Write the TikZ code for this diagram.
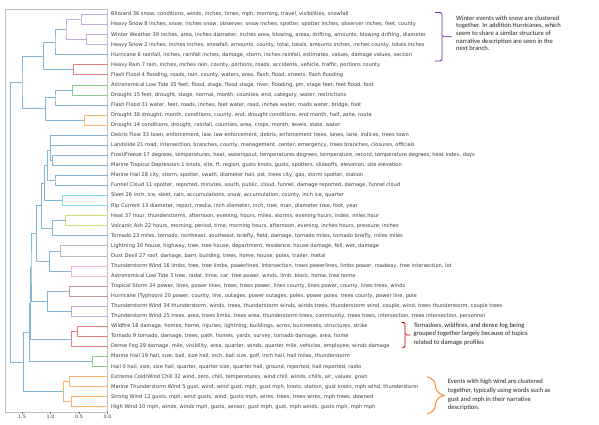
\documentclass[tikz,border=0pt]{standalone}
\usepackage{fontspec}
\setmainfont{DejaVu Sans}
\newfontfamily\notefont{Carlito}
\usetikzlibrary{decorations.pathreplacing}

\definecolor{tabblue}{HTML}{1F77B4}
\definecolor{taborange}{HTML}{FF7F0E}
\definecolor{tabgreen}{HTML}{2CA02C}
\definecolor{tabred}{HTML}{D62728}
\definecolor{tabpurple}{HTML}{9467BD}
\definecolor{tabbrown}{HTML}{8C564B}
\definecolor{tabpink}{HTML}{E377C2}
\definecolor{tabgray}{HTML}{7F7F7F}
\definecolor{tabolive}{HTML}{BCBD22}
\definecolor{tabcyan}{HTML}{17BECF}
\definecolor{labelgray}{HTML}{3C3C3C}
\definecolor{notepurple}{HTML}{7030A0}
\definecolor{notered}{HTML}{C00000}
\definecolor{noteorange}{HTML}{F79646}

\tikzset{
  leaf/.style={anchor=west, inner xsep=3.5pt, inner ysep=0pt, text=labelgray,
    font=\fontsize{5.1}{5.5}\selectfont},
  link/.style={line width=0.8pt},
  c0/.style={link, draw=tabblue!55!white},
  c1/.style={link, draw=taborange!60!white},
  c2/.style={link, draw=tabgreen!55!white},
  c3/.style={link, draw=tabred!60!white},
  c4/.style={link, draw=tabpurple!55!white},
  c5/.style={link, draw=tabbrown!60!white},
  c6/.style={link, draw=tabpink!55!white},
  c7/.style={link, draw=tabgray!55!white},
  c8/.style={link, draw=tabolive!60!white},
  c9/.style={link, draw=tabcyan!55!white},
  note/.style={anchor=north west, inner sep=0pt, align=left, text=black!85,
    font=\notefont\fontsize{6.6}{7.6}\selectfont},
}

\begin{document}
\begin{tikzpicture}[x=1pt, y=-1pt]
  \fill[white] (0,0) rectangle (599,424);
  \useasboundingbox (0,0) rectangle (599,424);

  \begin{scope}[shift={(107.5,14.5)}, x=-57pt, y=-10.06pt]
    \draw[black!25, line width=0.7pt] (1.798,-0.5) rectangle (0,39.5);
    \foreach \d/\t in {0/0.0, 0.5/0.5, 1/1.0, 1.5/1.5}
      \draw[black!60, line width=0.5pt] (\d,39.5) -- (\d,39.75)
        node[below, inner sep=0.6pt, text=labelgray, font=\fontsize{4.8}{5}\selectfont] {\t};

    \node[leaf] (l0) at (0,0) {Blizzard 36 snow, conditions, winds, inches, times, mph, morning, travel, visibilities, snowfall};
    \node[leaf] (l1) at (0,1) {Heavy Snow 8 inches, snow, inches snow, observer, snow inches, spotter, spotter inches, observer inches, feet, county};
    \node[leaf] (l2) at (0,2) {Winter Weather 39 inches, area, inches diameter, inches area, blowing, areas, drifting, amounts, blowing drifting, diameter};
    \node[leaf] (l3) at (0,3) {Heavy Snow 2 inches, inches inches, snowfall, amounts, county, total, totals, amounts inches, inches county, totals inches};
    \node[leaf] (l4) at (0,4) {Hurricane 6 rainfall, inches, rainfall inches, damage, storm, inches rainfall, estimates, values, damage values, section};
    \node[leaf] (l5) at (0,5) {Heavy Rain 7 rain, inches, inches rain, county, portions, roads, accidents, vehicle, traffic, portions county};
    \node[leaf] (l6) at (0,6) {Flash Flood 4 flooding, roads, rain, county, waters, area, flash, flood, streets, flash flooding};
    \node[leaf] (l7) at (0,7) {Astronomical Low Tide 35 feet, flood, stage, flood stage, river, flooding, pm, stage feet, feet flood, foot};
    \node[leaf] (l8) at (0,8) {Drought 15 feet, drought, stage, normal, month, counties, end, category, water, restrictions};
    \node[leaf] (l9) at (0,9) {Flash Flood 31 water, feet, roads, inches, feet water, road, inches water, roads water, bridge, foot};
    \node[leaf] (l10) at (0,10) {Drought 38 drought, month, conditions, county, end, drought conditions, end month, half, zone, route};
    \node[leaf] (l11) at (0,11) {Drought 14 conditions, drought, rainfall, counties, area, crops, month, levels, state, water};
    \node[leaf] (l12) at (0,12) {Debris Flow 33 town, enforcement, law, law enforcement, debris, enforcement trees, lanes, lane, indices, trees town};
    \node[leaf] (l13) at (0,13) {Landslide 21 road, intersection, branches, county, management, center, emergency, trees branches, closures, officials};
    \node[leaf] (l14) at (0,14) {Frost/Freeze 17 degrees, temperatures, heat, waterspout, temperatures degrees, temperature, record, temperature degrees, heat index, days};
    \node[leaf] (l15) at (0,15) {Marine Tropical Depression 1 knots, site, ft, region, gusts knots, gusts, spotters, slideoffs, elevation, site elevation};
    \node[leaf] (l16) at (0,16) {Marine Hail 28 city, storm, spotter, swath, diameter hail, pst, trees city, gas, storm spotter, station};
    \node[leaf] (l17) at (0,17) {Funnel Cloud 11 spotter, reported, minutes, south, public, cloud, funnel, damage reported, damage, funnel cloud};
    \node[leaf] (l18) at (0,18) {Sleet 26 inch, ice, sleet, rain, accumulations, snow, accumulation, county, inch ice, quarter};
    \node[leaf] (l19) at (0,19) {Rip Current 13 diameter, report, media, inch diameter, inch, tree, man, diameter tree, foot, year};
    \node[leaf] (l20) at (0,20) {Heat 37 hour, thunderstorms, afternoon, evening, hours, miles, storms, evening hours, index, miles hour};
    \node[leaf] (l21) at (0,21) {Volcanic Ash 22 hours, morning, period, time, morning hours, afternoon, evening, inches hours, pressure, inches};
    \node[leaf] (l22) at (0,22) {Tornado 23 miles, tornado, northeast, southeast, briefly, field, damage, tornado miles, tornado briefly, miles miles};
    \node[leaf] (l23) at (0,23) {Lightning 30 house, highway, tree, tree house, department, residence, house damage, fell, wet, damage};
    \node[leaf] (l24) at (0,24) {Dust Devil 27 roof, damage, barn, building, trees, home, house, poles, trailer, metal};
    \node[leaf] (l25) at (0,25) {Thunderstorm Wind 16 limbs, tree, tree limbs, powerlines, intersection, trees powerlines, limbs power, roadway, tree intersection, lot};
    \node[leaf] (l26) at (0,26) {Astronomical Low Tide 3 tree, radar, time, car, tree power, winds, limb, block, home, tree home};
    \node[leaf] (l27) at (0,27) {Tropical Storm 24 power, lines, power lines, trees, trees power, lines county, lines power, county, lines trees, winds};
    \node[leaf] (l28) at (0,28) {Hurricane (Typhoon) 20 power, county, line, outages, power outages, poles, power poles, trees county, power line, pole};
    \node[leaf] (l29) at (0,29) {Thunderstorm Wind 34 thunderstorm, winds, trees, thunderstorm winds, winds trees, thunderstorm wind, couple, wind, trees thunderstorm, couple trees};
    \node[leaf] (l30) at (0,30) {Thunderstorm Wind 25 trees, area, trees limbs, trees area, thunderstorm trees, community, trees trees, intersection, trees intersection, personnel};
    \node[leaf] (l31) at (0,31) {Wildfire 18 damage, homes, home, injuries, lightning, buildings, acres, businesses, structures, strike};
    \node[leaf] (l32) at (0,32) {Tornado 9 tornado, damage, trees, path, homes, yards, survey, tornado damage, area, home};
    \node[leaf] (l33) at (0,33) {Dense Fog 29 damage, mile, visibility, area, quarter, winds, quarter mile, vehicles, employee, winds damage};
    \node[leaf] (l34) at (0,34) {Marine Hail 19 hail, size, ball, size hail, inch, ball size, golf, inch hail, hail miles, thunderstorm};
    \node[leaf] (l35) at (0,35) {Hail 0 hail, size, size hail, quarter, quarter size, quarter hail, ground, reported, hail reported, radio};
    \node[leaf] (l36) at (0,36) {Extreme Cold/Wind Chill 32 wind, zero, chill, temperatures, wind chill, winds, chills, air, values, grain};
    \node[leaf] (l37) at (0,37) {Marine Thunderstorm Wind 5 gust, wind, wind gust, mph, gust mph, knots, station, gust knots, mph wind, thunderstorm};
    \node[leaf] (l38) at (0,38) {Strong Wind 12 gusts, mph, wind gusts, wind, gusts mph, wires, trees, trees wires, mph trees, downed};
    \node[leaf] (l39) at (0,39) {High Wind 10 mph, winds, winds mph, gusts, sensor, gust mph, gust, mph winds, gusts mph, mph mph};

    \coordinate (m1) at (0.465,0.5);
    \coordinate (m2) at (0.365,2.5);
    \coordinate (m3) at (0.728,1.5);
    \coordinate (m4) at (0.921,2.75);
    \coordinate (m5) at (0.600,5.5);
    \coordinate (m6) at (1.126,4.125);
    \coordinate (m7) at (0.610,7.5);
    \coordinate (m8) at (0.921,8.25);
    \coordinate (m9) at (0.407,10.5);
    \coordinate (m10) at (1.096,9.375);
    \coordinate (m11) at (1.500,6.75);
    \coordinate (m12) at (0.996,12.5);
    \coordinate (m13) at (0.968,14.5);
    \coordinate (m14) at (1.009,13.5);
    \coordinate (m15) at (0.921,16.5);
    \coordinate (m16) at (1.056,15);
    \coordinate (m17) at (0.793,18.5);
    \coordinate (m18) at (1.109,16.75);
    \coordinate (m19) at (0.733,20.5);
    \coordinate (m20) at (0.968,21.25);
    \coordinate (m21) at (1.154,19);
    \coordinate (m22) at (0.828,23.5);
    \coordinate (m23) at (0.640,25.5);
    \coordinate (m24) at (1.021,24.5);
    \coordinate (m25) at (1.254,21.75);
    \coordinate (m26) at (0.670,27.5);
    \coordinate (m27) at (0.628,29.5);
    \coordinate (m28) at (1.049,28.5);
    \coordinate (m29) at (1.342,25.125);
    \coordinate (m30) at (0.530,31.5);
    \coordinate (m31) at (0.628,32.25);
    \coordinate (m32) at (1.360,28.6875);
    \coordinate (m33) at (0.267,34.5);
    \coordinate (m34) at (1.374,31.594);
    \coordinate (m35) at (0.675,36.5);
    \coordinate (m36) at (0.628,38.5);
    \coordinate (m37) at (0.775,37.5);
    \coordinate (m38) at (1.477,34.547);
    \coordinate (m39) at (1.710,20.648);

    \draw[c4] (l0.west) -| (m1) |- (l1.west);
    \draw[c4] (l2.west) -| (m2) |- (l3.west);
    \draw[c4] (m1) -| (m3) |- (m2);
    \draw[c0] (m3) -| (m4) |- (l4.west);
    \draw[c3] (l5.west) -| (m5) |- (l6.west);
    \draw[c0] (m4) -| (m6) |- (m5);
    \draw[c2] (l7.west) -| (m7) |- (l8.west);
    \draw[c0] (m7) -| (m8) |- (l9.west);
    \draw[c1] (l10.west) -| (m9) |- (l11.west);
    \draw[c0] (m8) -| (m10) |- (m9);
    \draw[c0] (m6) -| (m11) |- (m10);
    \draw[c0] (l12.west) -| (m12) |- (l13.west);
    \draw[c0] (l14.west) -| (m13) |- (l15.west);
    \draw[c0] (m12) -| (m14) |- (m13);
    \draw[c0] (l16.west) -| (m15) |- (l17.west);
    \draw[c0] (m14) -| (m16) |- (m15);
    \draw[c9] (l18.west) -| (m17) |- (l19.west);
    \draw[c0] (m16) -| (m18) |- (m17);
    \draw[c8] (l20.west) -| (m19) |- (l21.west);
    \draw[c0] (m19) -| (m20) |- (l22.west);
    \draw[c0] (m18) -| (m21) |- (m20);
    \draw[c7] (l23.west) -| (m22) |- (l24.west);
    \draw[c6] (l25.west) -| (m23) |- (l26.west);
    \draw[c0] (m22) -| (m24) |- (m23);
    \draw[c0] (m21) -| (m25) |- (m24);
    \draw[c5] (l27.west) -| (m26) |- (l28.west);
    \draw[c4] (l29.west) -| (m27) |- (l30.west);
    \draw[c0] (m26) -| (m28) |- (m27);
    \draw[c0] (m25) -| (m29) |- (m28);
    \draw[c3] (l31.west) -| (m30) |- (l32.west);
    \draw[c3] (m30) -| (m31) |- (l33.west);
    \draw[c0] (m29) -| (m32) |- (m31);
    \draw[c2] (l34.west) -| (m33) |- (l35.west);
    \draw[c0] (m32) -| (m34) |- (m33);
    \draw[c1] (l36.west) -| (m35) |- (l37.west);
    \draw[c1] (l38.west) -| (m36) |- (l39.west);
    \draw[c1] (m35) -| (m37) |- (m36);
    \draw[c0] (m34) -| (m38) |- (m37);
    \draw[c0] (m11) -| (m39) |- (m38);
  \end{scope}

  \node[note] (winter) at (456,15.5) {Winter events with snow are clustered\\together. In addition Hurricanes, which\\seem to share a similar structure of\\narrative description are seen in the\\next branch.};
  \draw[notepurple, line width=0.9pt, rounded corners=1.5pt] (435,12.5) -| (442,36.7) -- (452,36.7);
  \draw[notepurple, line width=0.9pt, rounded corners=1.5pt] (442,36.7) |- (435,61);

  \node[note, font=\notefont\fontsize{6.6}{8.7}\selectfont] (damage) at (413.3,322.5) {Tornadoes, wildfires, and dense fog being\\grouped together largely because of topics\\related to damage profiles};
  \draw[notered, line width=0.9pt, rounded corners=1.5pt] (401.7,322.3) -| (405,335) -- (410.7,335);
  \draw[notered, line width=0.9pt, rounded corners=1.5pt] (405,335) |- (401.7,347.7);

  \node[note, font=\notefont\fontsize{6.6}{8.7}\selectfont] (wind) at (447.7,379) {Events with high wind are clustered\\together, typically using words such as\\gust and mph in their narrative\\description.};
  \draw[noteorange, line width=1.1pt, decorate, decoration={brace, amplitude=17pt, aspect=0.5}]
    (427,376.7) -- (427,414);
\end{tikzpicture}
\end{document}
